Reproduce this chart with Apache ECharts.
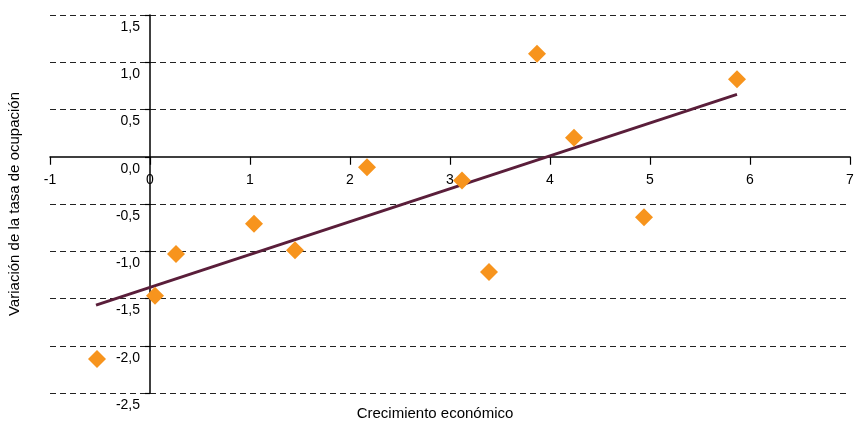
<!DOCTYPE html>
<html>
<head>
<meta charset="utf-8">
<script src="https://cdn.jsdelivr.net/npm/echarts@6/dist/echarts.min.js"></script>
<style>html,body{margin:0;padding:0;background:#fff;}#c{width:855px;height:423px;}</style>
</head>
<body>
<div id="c"></div>
<script>
var xName = 'Crecimiento económico';
var yName = 'Variación de la tasa de ocupación';
var pointsX = [-0.53, 0.05, 0.26, 1.04, 1.45, 2.17, 3.12, 3.39, 3.87, 4.24, 4.94, 5.87];
var pointsY = [-2.14, -1.47, -1.03, -0.71, -0.99, -0.11, -0.25, -1.22, 1.09, 0.20, -0.64, 0.82];
var trendX = [-0.54, 5.87];
var trendY = [-1.57, 0.66];
var xMin = -1, xMax = 7, xStep = 1;
var yMin = -2.5, yMax = 1.5, yStep = 0.5;

var scatterData = pointsX.map(function (x, i) { return [x, pointsY[i]]; });
var trendData = trendX.map(function (x, i) { return [x, trendY[i]]; });

var W = 855, H = 423;
var gLeft = 50, gRight = 5, gTop = 15, gBottom = 30;
var gW = W - gLeft - gRight, gH = H - gTop - gBottom;
// axes cross at zero: offsets derived from the scale
var xAxisOffset = -gH * (0 - yMin) / (yMax - yMin);
var yAxisOffset = -gW * (0 - xMin) / (xMax - xMin);

// split line colours: hide the one under the zero axis line
var splitColors = [];
for (var v = yMin; v <= yMax + 1e-9; v += yStep) {
  splitColors.push(Math.abs(v) < 1e-9 ? 'rgba(0,0,0,0)' : '#222');
}

var font = 'Liberation Sans, Arial, sans-serif';
var chart = echarts.init(document.getElementById('c'), null, {renderer: 'canvas'});
chart.setOption({
  animation: false,
  backgroundColor: '#fff',
  grid: {left: gLeft, right: gRight, top: gTop, bottom: gBottom, containLabel: false, outerBoundsMode: 'none'},
  xAxis: [{
    type: 'value', min: xMin, max: xMax, interval: xStep, position: 'bottom', offset: xAxisOffset,
    axisLine: {show: true, onZero: false, lineStyle: {color: '#000', width: 1.5}},
    axisTick: {show: true, inside: false, length: 8, lineStyle: {color: '#000', width: 1.2}},
    axisLabel: {color: '#000', fontSize: 14, fontFamily: font, margin: 16},
    splitLine: {show: false}
  }, {
    type: 'value', min: xMin, max: xMax, position: 'bottom', offset: 0,
    axisLine: {show: false, onZero: false}, axisTick: {show: false}, axisLabel: {show: false}, splitLine: {show: false},
    name: xName, nameLocation: 'middle', nameGap: 13,
    nameTextStyle: {color: '#000', fontSize: 15, fontFamily: font, padding: [0, 30, 0, 0]}
  }],
  yAxis: [{
    type: 'value', min: yMin, max: yMax, interval: yStep, position: 'left', offset: yAxisOffset,
    axisLine: {show: true, onZero: false, lineStyle: {color: '#000', width: 1.5}},
    axisTick: {show: true, inside: false, length: 5, lineStyle: {color: '#000', width: 1.2}},
    axisLabel: {color: '#000', fontSize: 14, fontFamily: font, margin: 10, verticalAlign: 'top', lineHeight: 14, padding: [5, 0, 0, 0],
      formatter: function (v) { return v.toFixed(1).replace('.', ','); }},
    splitLine: {show: true, lineStyle: {color: splitColors, width: 1, type: [6, 4]}}
  }, {
    type: 'value', min: yMin, max: yMax, position: 'left', offset: 0,
    axisLine: {show: false, onZero: false}, axisTick: {show: false}, axisLabel: {show: false}, splitLine: {show: false},
    name: yName, nameLocation: 'middle', nameGap: 28,
    nameTextStyle: {color: '#000', fontSize: 15, fontFamily: font}
  }],
  series: [{
    type: 'line', data: trendData, xAxisIndex: 0, yAxisIndex: 0,
    symbol: 'none', lineStyle: {color: '#5A1E3A', width: 3}, z: 3
  }, {
    type: 'scatter', data: scatterData, xAxisIndex: 0, yAxisIndex: 0,
    symbol: 'diamond', symbolSize: 18, itemStyle: {color: '#F7941D', opacity: 1}, z: 4
  }]
});
</script>
</body>
</html>
